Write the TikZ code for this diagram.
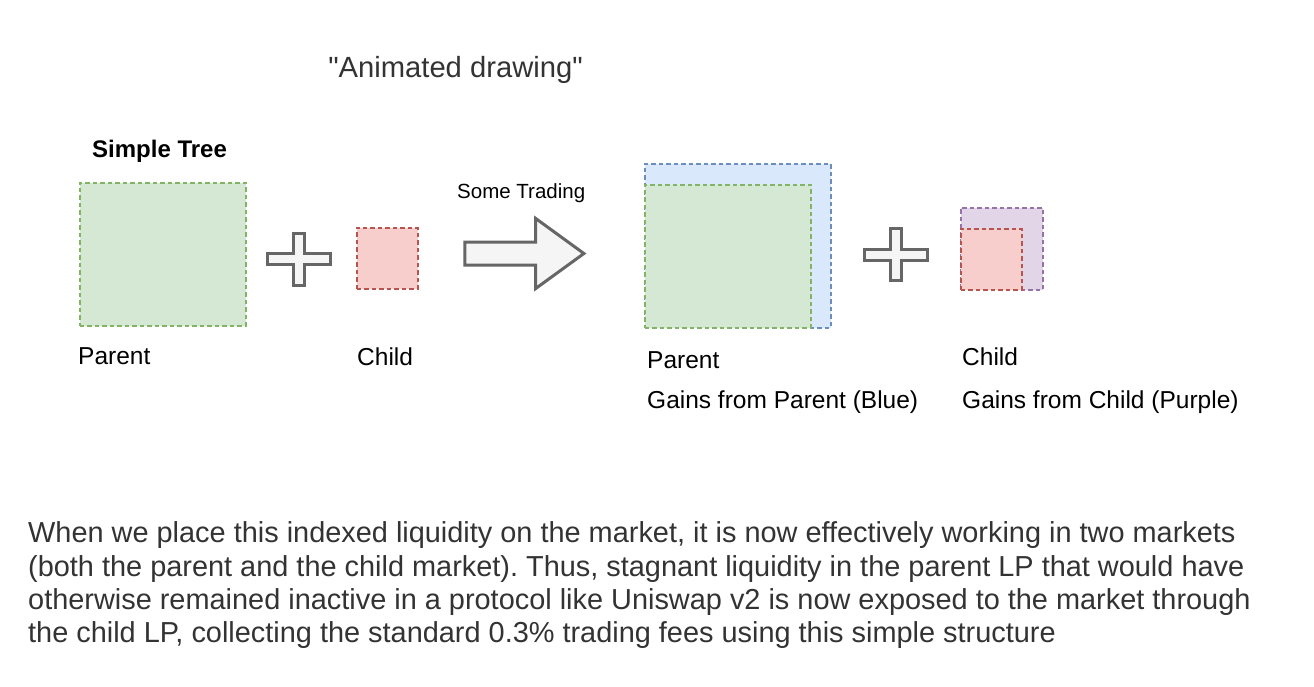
\documentclass[tikz,border=0pt]{standalone}
\usepackage{fontspec}
\setmainfont{Liberation Sans}
\newfontfamily\docfont{Liberation Sans}
\usepackage{tikz}
\usetikzlibrary{shapes.arrows, positioning}
\definecolor{greenline}{HTML}{82B366}
\definecolor{greenfill}{HTML}{D5E8D4}
\definecolor{redline}{HTML}{B85450}
\definecolor{redfill}{HTML}{F8CECC}
\definecolor{blueline}{HTML}{6C8EBF}
\definecolor{bluefill}{HTML}{DAE8FC}
\definecolor{purpleline}{HTML}{9673A6}
\definecolor{purplefill}{HTML}{E1D5E7}
\definecolor{shapegray}{HTML}{666666}
\definecolor{shapefill}{HTML}{F5F5F5}
\definecolor{textgray}{HTML}{333333}
\frenchspacing

\begin{document}
\begin{tikzpicture}[
  x=1pt, y=-1pt,
  box/.style 2 args={rectangle, draw=#1, fill=#2, line width=1.5pt, dash pattern=on 4.5pt off 3pt, inner sep=0pt, anchor=north west},
  label/.style={font=\fontsize{24.5}{29}\selectfont, anchor=base west, inner sep=0pt},
  bodyline/.style={font=\fontsize{28.9}{33}\selectfont, text=textgray, anchor=base west, inner sep=0pt},
  plussign/.style={draw=shapegray, fill=shapefill, line width=3pt, line join=miter},
  bigarrow/.style={single arrow, draw=shapegray, fill=shapefill, line width=3pt, line join=miter, inner xsep=0pt, inner ysep=10pt, single arrow head extend=23.5pt, single arrow tip angle=72, minimum height=119pt}
]
  \fill[white, use as bounding box] (0,0) rectangle (1314,686);

  % Title
  \node[font=\docfont\fontsize{29.2}{34}\selectfont, text=textgray, anchor=base, inner sep=0pt] (title) at (455.5,77) {"Animated drawing"};

  % Before trading
  \node[box={greenline}{greenfill}, minimum width=166pt, minimum height=143pt] (parent) at (79,182) {};
  \node[box={redline}{redfill}, minimum width=61pt, minimum height=61pt] (child) at (356,227) {};
  \node[label, font=\fontsize{24}{29}\selectfont\bfseries] (treelbl) at ([xshift=13pt, yshift=25pt]parent.north west) {Simple Tree};
  \node[label] (parentlbl) at ([xshift=-1pt, yshift=-38pt]parent.south west) {Parent};
  \node[label] (childlbl) at ([xshift=1pt, yshift=-76pt]child.south west) {Child};

  % Trading arrow
  \node[bigarrow] (trade) at (516.5,253.5) {};
  \node[label, font=\fontsize{20.5}{25}\selectfont] (tradelbl) at (457,198) {Some Trading};

  % After trading
  \node[box={blueline}{bluefill}, minimum width=186pt, minimum height=164pt] (parentgain) at (644,163) {};
  \node[box={greenline}{greenfill}, minimum width=166pt, minimum height=143pt] (parentnew) at (644,184) {};
  \node[box={purpleline}{purplefill}, minimum width=82pt, minimum height=82pt] (childgain) at (960,207) {};
  \node[box={redline}{redfill}, minimum width=61pt, minimum height=61pt] (childnew) at (960,228) {};
  \node[label] (parentlbl2) at ([xshift=3pt, yshift=-40pt]parentgain.south west) {Parent};
  \node[label] (parentgainlbl) at ([xshift=3pt, yshift=-80pt]parentgain.south west) {Gains from Parent (Blue)};
  \node[label] (childlbl2) at ([xshift=2pt, yshift=-75pt]childgain.south west) {Child};
  \node[label] (childgainlbl) at ([xshift=2pt, yshift=-118pt]childgain.south west) {Gains from Child (Purple)};

  % Plus signs
  \foreach \cx/\cy in {299/259, 895.5/254.5}
    \draw[plussign] (\cx-31.5,\cy-5.5) -- (\cx-5.5,\cy-5.5) -- (\cx-5.5,\cy-26) -- (\cx+5.5,\cy-26)
      -- (\cx+5.5,\cy-5.5) -- (\cx+31.5,\cy-5.5) -- (\cx+31.5,\cy+5.5) -- (\cx+5.5,\cy+5.5)
      -- (\cx+5.5,\cy+26) -- (\cx-5.5,\cy+26) -- (\cx-5.5,\cy+5.5) -- (\cx-31.5,\cy+5.5) -- cycle;

  % Explanation
  \node[bodyline] (line1) at (28,542) {When we place this indexed liquidity on the market, it is now effectively working in two markets};
  \node[bodyline] (line2) at (28,576) {(both the parent and the child market). Thus, stagnant liquidity in the parent LP that would have};
  \node[bodyline] (line3) at (28,609) {otherwise remained inactive in a protocol like Uniswap v2 is now exposed to the market through};
  \node[bodyline] (line4) at (28,642) {the child LP, collecting the standard 0.3\% trading fees using this simple structure};
\end{tikzpicture}
\end{document}
